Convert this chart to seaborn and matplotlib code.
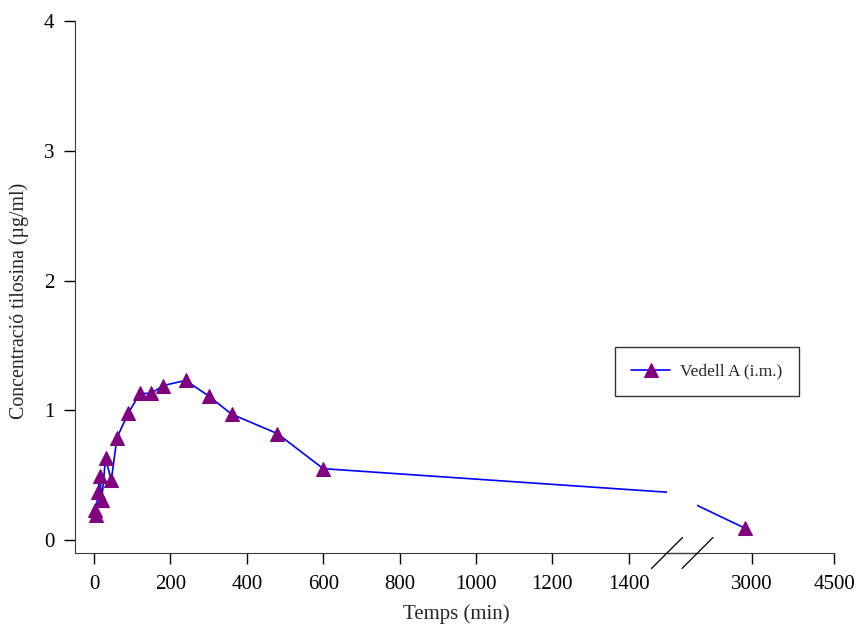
import matplotlib
matplotlib.use("Agg")
import matplotlib.pyplot as plt
from matplotlib.lines import Line2D
import seaborn as sns
import pandas as pd

# Tylosin plasma concentration, calf A, intramuscular dose
temps_min = [2.5, 5, 10, 15, 20, 30, 45, 60, 90, 120, 150, 180, 240, 300, 360, 480, 600, 2880]
concentracio = [0.23, 0.19, 0.37, 0.49, 0.31, 0.63, 0.46, 0.79, 0.98, 1.13, 1.13, 1.19, 1.23,
                1.11, 0.97, 0.82, 0.55, 0.09]
serie = "Vedell A (i.m.)"

xticks_left = [0, 200, 400, 600, 800, 1000, 1200, 1400]
xticks_right = [3000, 4500]
yticks = [0, 1, 2, 3, 4]

df = pd.DataFrame({"Temps": temps_min, "Conc": concentracio})

sns.set_style("ticks")
plt.rcParams["font.family"] = ["Liberation Serif", "DejaVu Serif"]

W, H = 859, 628
fig = plt.figure(figsize=(W / 100, H / 100), dpi=100)


def box(x0, y0, x1, y1):
    return [x0 / W, 1 - y1 / H, (x1 - x0) / W, (y1 - y0) / H]


ax1 = fig.add_axes(box(75, 21, 667, 553))
ax2 = fig.add_axes(box(697, 21, 834, 553), sharey=ax1)

line_kw = dict(color="#0000FF", linewidth=1.2, marker="^", markersize=9.5,
               markerfacecolor="#800080", markeredgecolor="#800080",
               estimator=None)
sns.lineplot(data=df, x="Temps", y="Conc", ax=ax1, label=serie, **line_kw)
sns.lineplot(data=df, x="Temps", y="Conc", ax=ax2, legend=False, **line_kw)

ax1.set_xlim(-50, 1500)
ax2.set_xlim(2000, 4500)
ax1.set_ylim(-0.1, 4)

spine_col = "#3a3a3a"
for ax in (ax1, ax2):
    ax.set_facecolor("none")
    for s in ("top", "right"):
        ax.spines[s].set_visible(False)
    ax.spines["bottom"].set_color(spine_col)
    ax.spines["left"].set_color(spine_col)
    ax.tick_params(axis="both", length=8, width=1, color="black",
                   labelsize=15, labelcolor="black")
    ax.tick_params(axis="x", pad=8)
    ax.tick_params(axis="y", pad=7)
    ax.set_xlabel("")
    ax.set_ylabel("")

ax2.spines["left"].set_visible(False)
ax2.tick_params(axis="y", left=False, labelleft=False)

ax1.set_xticks(xticks_left)
ax1.set_xticklabels([str(v) for v in xticks_left])
ax2.set_xticks(xticks_right)
ax2.set_xticklabels([str(v) for v in xticks_right])
ax1.set_yticks(yticks)
ax1.set_yticklabels([str(v) for v in yticks])

ax1.set_ylabel("Concentració tilosina (µg/ml)", fontsize=14.3)
ax1.yaxis.set_label_coords(-0.078, 0.473)
ax1.set_xlabel("Temps (min)", fontsize=15)
ax1.xaxis.set_label_coords(0.6436, -0.096)

# Axis line across the break gap
fig.add_artist(Line2D([667 / W, 697 / W], [1 - 553 / H, 1 - 553 / H],
                      transform=fig.transFigure, color=spine_col, linewidth=1))

# Break marks (slashes) at both sides of the gap
for xc in (667, 697.5):
    fig.add_artist(Line2D([(xc - 15.5) / W, (xc + 15.5) / W],
                          [1 - 568.5 / H, 1 - 537.5 / H],
                          transform=fig.transFigure, color="black", linewidth=0.9))

leg = ax1.legend(loc="upper left", bbox_to_anchor=(615 / W, 1 - 347 / H),
                 bbox_transform=fig.transFigure, borderaxespad=0,
                 fontsize=12.5, frameon=True, fancybox=False, shadow=False,
                 borderpad=0.95, handlelength=2.2, handletextpad=0.6)
leg.get_frame().set_edgecolor("black")
leg.get_frame().set_linewidth(1.0)

fig.savefig("out.png", dpi=100)
